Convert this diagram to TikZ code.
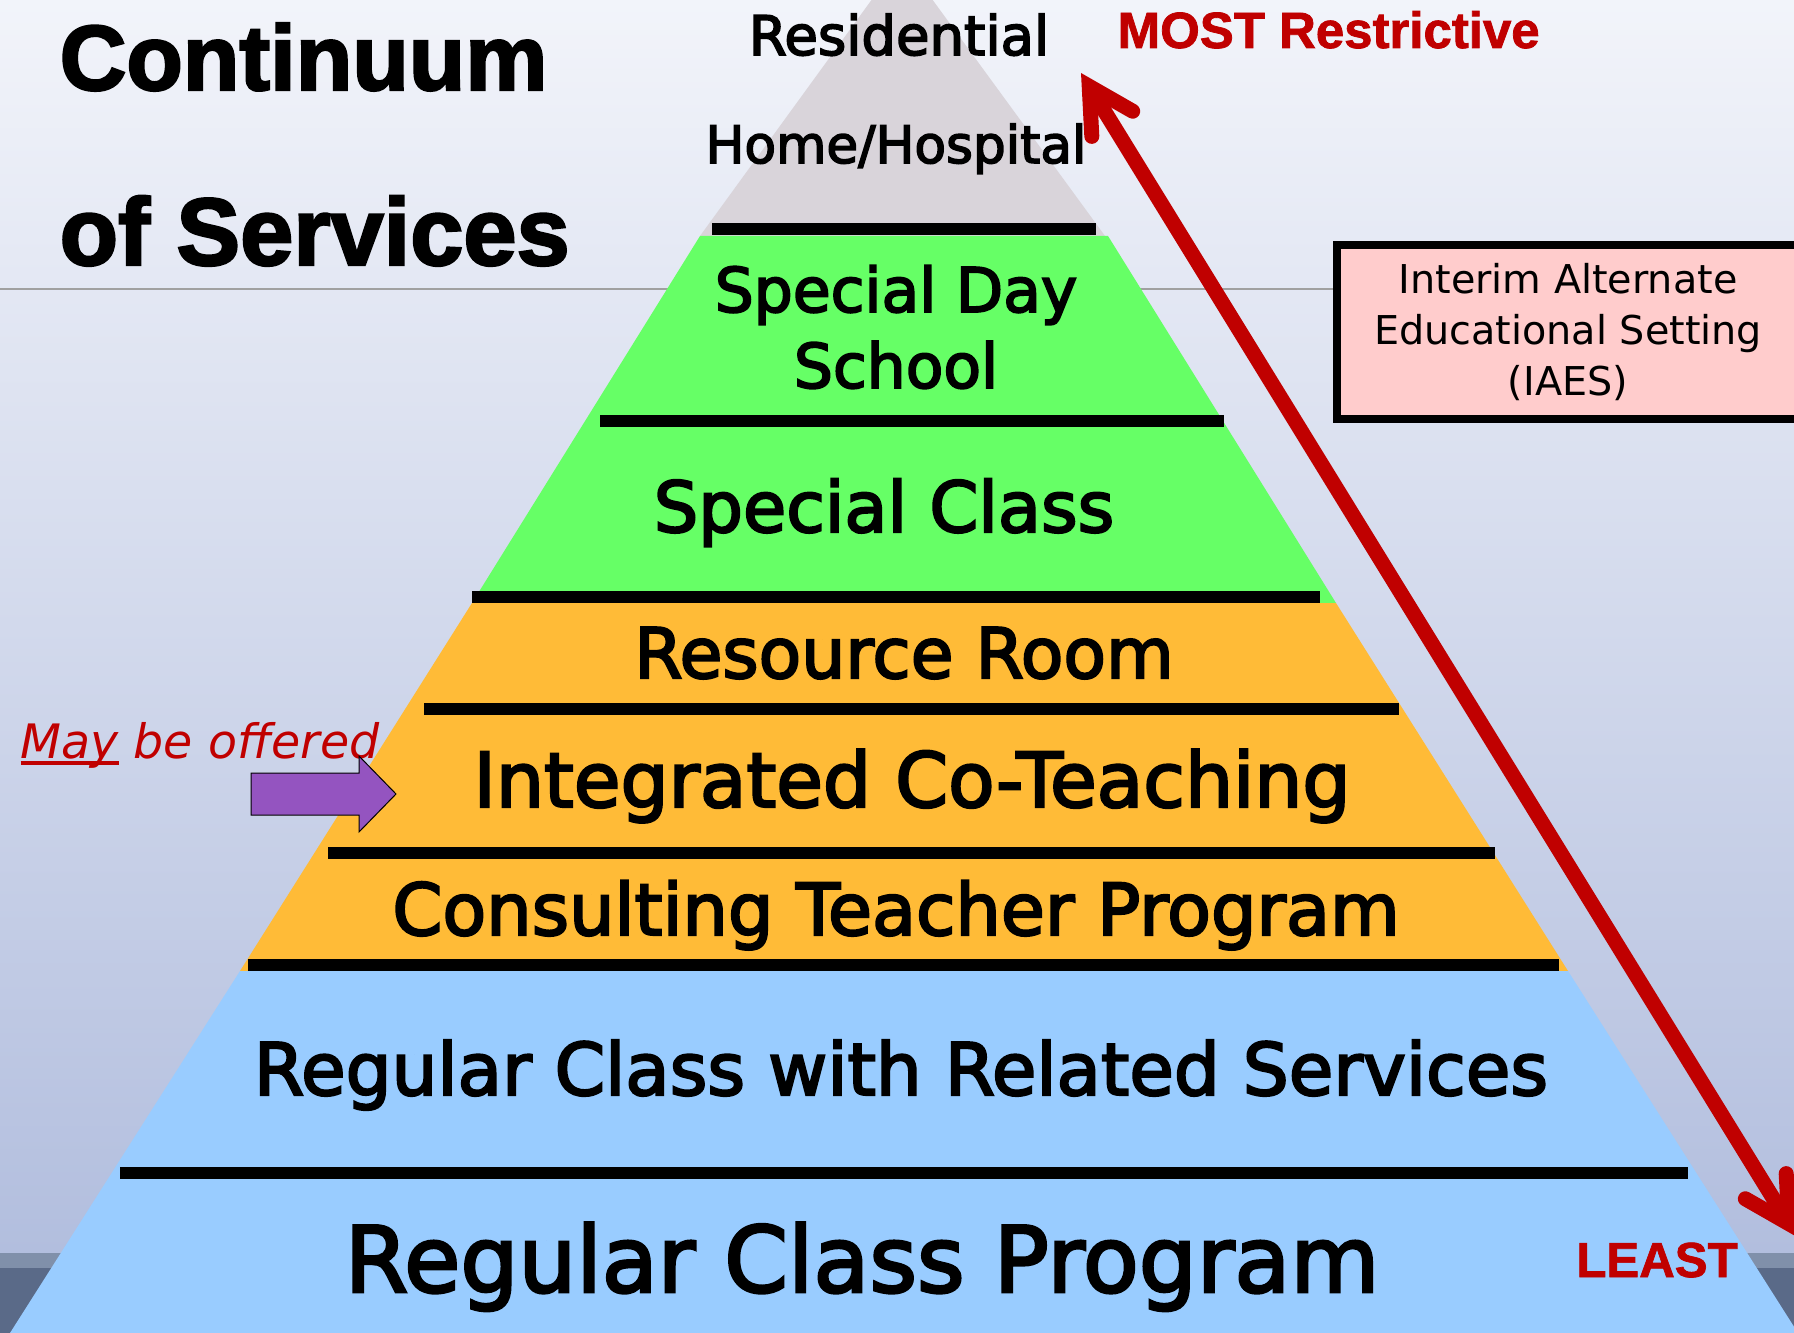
\documentclass[tikz,border=0pt]{standalone}
\usepackage{fontspec}
\setmainfont{DejaVu Sans}
\newfontfamily\pyrfont{DejaVu Sans}[FakeBold=3]
\newfontfamily\headfont{Liberation Sans Bold}[FakeBold=2.5]
\newfontfamily\redfont{Liberation Sans Bold}[FakeBold=1.5]
\usepackage{xcolor}
\usepackage{tikz}
\usetikzlibrary{arrows.meta,positioning,calc}

\definecolor{bgtop}{RGB}{242,244,250}
\definecolor{bgmid}{RGB}{197,205,229}
\definecolor{bgbot}{RGB}{178,190,222}
\definecolor{stripA}{RGB}{128,144,170}
\definecolor{stripB}{RGB}{90,106,136}
\definecolor{rulegray}{RGB}{160,160,160}
\definecolor{topgray}{RGB}{217,212,218}
\definecolor{laygreen}{RGB}{102,255,102}
\definecolor{layorange}{RGB}{255,187,55}
\definecolor{layblue}{RGB}{153,204,255}
\definecolor{darkred}{RGB}{192,0,0}
\definecolor{iaespink}{RGB}{255,204,204}
\definecolor{offerpurple}{RGB}{148,84,192}

% underline sitting close to the baseline
\newcommand{\redunder}[1]{\setbox0\hbox{#1}\rlap{\rule[-1.9pt]{\wd0}{1.1pt}}#1}

\begin{document}
\begin{tikzpicture}[x=0.1mm,y=-0.1mm]
	\tikzstyle{bar} = [line width=1.2mm,black]
	\tikzstyle{rung} = [text=black,anchor=base,inner sep=0pt]
	\tikzstyle{headline} = [anchor=base west,inner sep=0pt]
	\tikzstyle{redword} = [text=darkred,inner sep=0pt]
	\tikzstyle{block} = [draw,line width=0.8mm,fill=iaespink,align=center,minimum width=46.2mm,minimum height=17.4mm,inner sep=0pt,font=\fontsize{11.3}{14.5}\selectfont]
	\tikzstyle{redarrow} = [darkred,line width=1.5mm]
	\tikzstyle{barb} = [{Straight Barb[length=4.4mm,width=4.8mm,line cap=round,line join=miter]}-{Straight Barb[length=4.4mm,width=4.8mm,line cap=round,line join=miter]}]

	\useasboundingbox (0,0) rectangle (1794,1333);
	\clip (0,0) rectangle (1794,1333);

	% slide background
	\shade[top color=bgtop,middle color=bgmid,bottom color=bgbot] (0,0) rectangle (1794,1253);
	\fill[stripA] (0,1253) rectangle (1794,1268);
	\fill[stripB] (0,1268) rectangle (1794,1333);
	\draw[rulegray,line width=0.15mm] (0,289) -- (1794,289);

	% pyramid
	\fill[topgray] (902,-42) -- (1105,236) -- (700,236) -- cycle;
	\fill[laygreen] (700,236) -- (1108,236) -- (1336,603) -- (472,603) -- cycle;
	\fill[layorange] (472,603) -- (1336,603) -- (1568,971) -- (240,971) -- cycle;
	\fill[layblue] (240,971) -- (1568,971) -- (1798,1333) -- (10,1333) -- cycle;

	\foreach \y/\xa/\xb in {229/712/1096,421/600/1224,597/472/1320,709/424/1399,853/328/1495,965/248/1559,1173/120/1688}
		\draw[bar] (\xa,\y) -- (\xb,\y);

	\node[rung,font=\pyrfont\fontsize{15.5}{18}\selectfont] (resid) at (899,55) {Residential};
	\node[rung,font=\pyrfont\fontsize{14.7}{18}\selectfont] (home) at (896,163) {Home/Hospital};
	\node[rung,anchor=center,align=center,font=\pyrfont\fontsize{17.5}{21.6}\selectfont] (sds) at (896,327) {Special Day\\School};
	\node[rung,font=\pyrfont\fontsize{20}{24}\selectfont] (sclass) at (884,532) {Special Class};
	\node[rung,font=\pyrfont\fontsize{19.8}{23}\selectfont] (resource) at (904,678) {Resource Room};
	\node[rung,font=\pyrfont\fontsize{21.6}{25}\selectfont] (ict) at (912,807) {Integrated Co-Teaching};
	\node[rung,font=\pyrfont\fontsize{20.4}{24}\selectfont] (ctp) at (896,935) {Consulting Teacher Program};
	\node[rung,font=\pyrfont\fontsize{20.6}{25}\selectfont] (rcrs) at (901,1095) {Regular Class with Related Services};
	\node[rung,font=\pyrfont\fontsize{26}{30}\selectfont] (rcp) at (862,1292) {Regular Class Program};

	% title and side notes
	\node[headline,font=\headfont\fontsize{26.3}{30}\selectfont] (cont) at (59,90) {Continuum};
	\node[headline,font=\headfont\fontsize{27.2}{30}\selectfont] (serv) at (59,265) {of Services};
	\node[redword,anchor=base west,font=\redfont\fontsize{14.5}{16}\selectfont] (most) at (1117,48) {MOST Restrictive};
	\node[redword,anchor=base,font=\redfont\fontsize{14}{16}\selectfont] (least) at (1657,1277) {LEAST};
	\node[block] (iaes) at (1568,332) {Interim Alternate\\Educational Setting\\(IAES)};

	\node[anchor=base west,inner sep=0pt,text=darkred,font=\itshape\fontsize{13.5}{16}\selectfont] (offer) at (20,758) {\redunder{May} be offered};
	\filldraw[fill=offerpurple,draw=black,line width=0.1mm] (251,773) -- (359,773) -- (359,756) -- (396,794) -- (359,832) -- (359,815) -- (251,815) -- cycle;

	\coordinate (mostTip) at (1081,73);
	\coordinate (leastTip) at (1797,1237);
	\draw[redarrow,barb] (mostTip) -- (leastTip);
\end{tikzpicture}
\end{document}
